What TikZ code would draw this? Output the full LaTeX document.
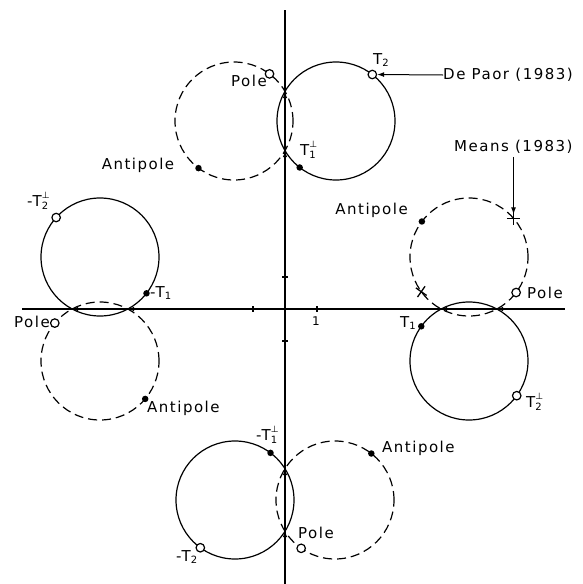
\documentclass[tikz,border=0pt]{standalone}
\usepackage{fontspec}
\setmainfont{DejaVu Sans}[LetterSpace=10]
\usetikzlibrary{calc,arrows.meta,shapes.misc}

\newcommand\Tsub[1]{T\raisebox{-0.35ex}{\fontsize{10}{12}\selectfont #1}}
\newcommand\Tsubsup[2]{T\rlap{\raisebox{1.0ex}{\fontsize{9}{10}\selectfont #2}}\raisebox{-0.35ex}{\fontsize{10}{12}\selectfont #1}}

\begin{document}
\begin{tikzpicture}[x=1pt,y=-1pt,
 lbl/.style={font=\fontsize{15}{18}\selectfont, inner sep=0pt},
 solidc/.style={line width=1.2pt},
 dashc/.style={line width=1.2pt, dash pattern=on 9pt off 5pt},
 axisline/.style={line width=1.5pt},
 opendot/.style={circle, draw, line width=1.2pt, fill=white, inner sep=0pt, minimum size=8.5pt},
 filldot/.style={circle, fill=black, inner sep=0pt, minimum size=6.5pt},
 crossmark/.style={cross out, draw, line width=1.3pt, inner sep=0pt, minimum size=8pt},
 tipmark/.style={-{Latex[length=6pt,width=4.5pt]}, line width=1pt},
 pointer/.style={-{Latex[length=7pt,width=5pt]}, line width=1pt}
]
\useasboundingbox (0,0) rectangle (582,584);

% axes
\coordinate (vtop) at (285,10);
\coordinate (vbot) at (285,584);
\coordinate (hleft) at (22,309);
\coordinate (hright) at (565,309);
\draw[axisline] (vtop) -- (vbot);
\draw[axisline] (hleft) -- (hright);
\foreach \x in {253,317} \draw[line width=1.4pt] (\x,306) -- (\x,312);
\foreach \y in {277,341} \draw[line width=1.4pt] (282,\y) -- (288,\y);
\node[font=\fontsize{12}{14}\selectfont, inner sep=0pt] (one) at (316,321) {1};

% circle centres
\coordinate (dT) at (234,121);
\coordinate (sT) at (336,121);
\coordinate (dB) at (335,500);
\coordinate (sB) at (235,500);
\coordinate (sL) at (100,257);
\coordinate (dL) at (100,361);
\coordinate (dR) at (469,257);
\coordinate (sR) at (469,361);

\draw[dashc] (dT) circle (59pt);
\draw[solidc] (sT) circle (59pt);
\draw[dashc] (dB) circle (59pt);
\draw[solidc] (sB) circle (59pt);
\draw[solidc] (sL) circle (59pt);
\draw[dashc] (dL) circle (59pt);
\draw[dashc] (dR) circle (59pt);
\draw[solidc] (sR) circle (59pt);

% direction marks at the crossings with the axes
\draw[tipmark] (285,97) -- (285,92);
\draw[tipmark] (285,156) -- (285,151);
\draw[tipmark] (285,474) -- (285,469);
\draw[tipmark] (285,536) -- (285,531);
\draw[tipmark] (77,309) -- (72,309);
\draw[tipmark] (133,309) -- (128,309);
\draw[tipmark] (446,309) -- (441,309);
\draw[tipmark] (502,309) -- (497,309);

% top group
\node[opendot] (poleT) at ($(dT)+(53:59pt)$) {};
\node[filldot] (antiT) at ($(dT)+(233:59pt)$) {};
\node[opendot] (t2T) at ($(sT)+(52:59pt)$) {};
\node[filldot] (t1T) at ($(sT)+(232:59pt)$) {};
\node[lbl] (poleTl) at (249,81) {Pole};
\node[lbl] (antiTl) at (138,165) {Antipole};
\node[lbl] (t2Tl) at (381,60) {\Tsub{2}};
\node[lbl, anchor=west] (t1Tl) at (300,150) {\Tsubsup{1}{⊥}};
\node[lbl, anchor=west] (depaor) at (443,75) {De Paor (1983)};
\draw[pointer] (depaor.west) -- (t2T.east);

% right group
\node[filldot] (antiR) at ($(dR)+(143:59pt)$) {};
\node[opendot] (poleR) at ($(dR)+(-37:59pt)$) {};
\node[crossmark, rotate=45] (meansR) at ($(dR)+(41:59pt)$) {};
\node[crossmark, rotate=10] (starR) at ($(dR)+(216:59pt)$) {};
\node[filldot] (t1R) at ($(sR)+(144:59pt)$) {};
\node[opendot] (t2R) at ($(sR)+(-36:59pt)$) {};
\node[lbl, anchor=east] (antiRl) at (408,210) {Antipole};
\node[lbl, anchor=west] (poleRl) at (527,293) {Pole};
\node[lbl] (t1Rl) at (408,323) {\Tsub{1}};
\node[lbl, anchor=west] (t2Rl) at (526,402) {\Tsubsup{2}{⊥}};
\node[lbl, anchor=west] (means) at (454,147) {Means (1983)};
\coordinate (meanstip) at ($(meansR.center)+(0,-4)$);
\draw[pointer] ($(means.south -| meansR.center)+(0,3)$) -- (meanstip);

% left group
\node[opendot] (t2L) at ($(sL)+(138:59pt)$) {};
\node[filldot] (t1L) at ($(sL)+(-38:59pt)$) {};
\node[opendot] (poleL) at ($(dL)+(140:59pt)$) {};
\node[filldot] (antiL) at ($(dL)+(-40:59pt)$) {};
\node[lbl, anchor=west] (t2Ll) at (27,201) {-\Tsubsup{2}{⊥}};
\node[lbl, anchor=west] (t1Ll) at (150,293) {-\Tsub{1}};
\node[lbl, anchor=east] (poleLl) at (50,322) {Pole};
\node[lbl, anchor=west] (antiLl) at (147,408) {Antipole};

% bottom group
\node[filldot] (t1B) at ($(sB)+(53:59pt)$) {};
\node[opendot] (t2B) at ($(sB)+(234:59pt)$) {};
\node[filldot] (antiB) at ($(dB)+(52:59pt)$) {};
\node[opendot] (poleB) at ($(dB)+(235:59pt)$) {};
\node[lbl, anchor=west] (t1Bl) at (256,435) {-\Tsubsup{1}{⊥}};
\node[lbl, anchor=west] (t2Bl) at (176,557) {-\Tsub{2}};
\node[lbl, anchor=west] (antiBl) at (382,448) {Antipole};
\node[lbl] (poleBl) at (316,533) {Pole};
\end{tikzpicture}
\end{document}
